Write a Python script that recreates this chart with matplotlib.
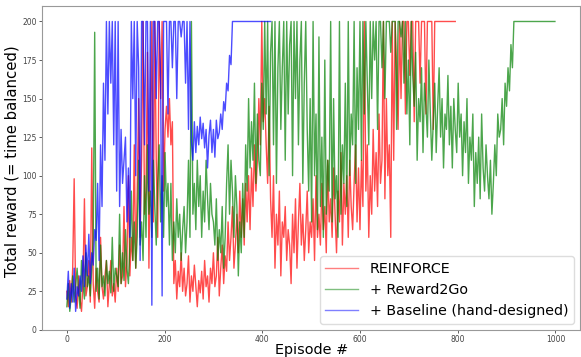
import numpy as np
import matplotlib
matplotlib.use("Agg")
import matplotlib.pyplot as plt

# one value every 3 episodes
step = 3

reinforce = [
    25, 15, 32, 18, 40, 98, 22, 14, 35, 20,
    12, 30, 85, 22, 28, 45, 18, 118, 30, 14,
    40, 25, 18, 60, 28, 20, 35, 45, 15, 30,
    45, 22, 30, 18, 40, 25, 55, 30, 35, 80,
    28, 45, 100, 35, 60, 45, 120, 40, 90, 150,
    60, 110, 200, 75, 90, 180, 40, 130, 200, 70,
    200, 110, 60, 200, 150, 200, 90, 130, 145, 125,
    150, 120, 135, 30, 45, 20, 38, 28, 50, 25,
    40, 22, 30, 48, 18, 35, 25, 42, 28, 15,
    32, 24, 38, 20, 45, 28, 35, 18, 40, 30,
    50, 28, 35, 60, 22, 40, 55, 30, 48, 38,
    70, 45, 60, 80, 40, 55, 75, 50, 90, 60,
    85, 55, 95, 70, 100, 65, 105, 80, 120, 90,
    110, 150, 120, 200, 135, 150, 120, 95, 145, 85,
    60, 100, 40, 75, 55, 90, 35, 70, 60, 80,
    45, 65, 55, 30, 75, 50, 85, 40, 70, 95,
    55, 75, 45, 65, 90, 50, 70, 60, 85, 45,
    100, 60, 75, 55, 95, 65, 80, 50, 110, 70,
    85, 60, 105, 75, 50, 90, 70, 115, 55, 95,
    75, 100, 60, 110, 80, 65, 95, 120, 70, 105,
    65, 110, 80, 200, 90, 120, 60, 100, 75, 130,
    90, 115, 80, 140, 95, 110, 200, 85, 150, 100,
    120, 60, 200, 110, 200, 170, 130, 200, 150, 200,
    200, 140, 200, 200, 165, 200, 200, 135, 200, 200,
    200, 160, 200, 200, 200, 140, 200, 200, 200, 200,
    130, 200, 200, 200, 200, 200, 200, 200, 200, 200,
    200, 200, 200, 200, 200, 200,
]

reward2go = [
    15, 30, 12, 22, 35, 18, 28, 40, 25, 14,
    45, 30, 20, 50, 28, 35, 22, 40, 60, 193,
    25, 40, 20, 55, 28, 35, 22, 45, 30, 38,
    24, 60, 25, 40, 35, 28, 75, 30, 50, 32,
    65, 40, 30, 55, 90, 45, 70, 40, 60, 110,
    55, 70, 45, 100, 60, 120, 75, 90, 60, 110,
    80, 55, 95, 120, 70, 100, 60, 115, 80, 95,
    55, 95, 45, 70, 50, 85, 60, 75, 45, 65,
    80, 50, 70, 110, 60, 200, 75, 95, 65, 110,
    80, 100, 60, 90, 70, 110, 85, 65, 95, 75,
    70, 55, 85, 45, 65, 50, 80, 40, 60, 95,
    120, 75, 110, 90, 60, 100, 80, 35, 70, 50,
    95, 60, 120, 90, 150, 105, 135, 110, 160, 95,
    140, 110, 100, 160, 130, 200, 140, 200, 100, 180,
    200, 120, 200, 95, 170, 200, 130, 170, 200, 110,
    200, 140, 185, 200, 100, 200, 150, 200, 120, 175,
    200, 95, 160, 200, 130, 90, 150, 70, 200, 100,
    140, 65, 190, 80, 125, 60, 175, 75, 110, 90,
    200, 70, 150, 85, 100, 60, 200, 75, 120, 95,
    160, 80, 200, 100, 140, 120, 200, 95, 170, 130,
    200, 110, 200, 140, 200, 160, 120, 200, 150, 200,
    175, 200, 130, 200, 200, 170, 200, 150, 200, 200,
    200, 180, 200, 200, 200, 130, 200, 200, 190, 200,
    160, 200, 140, 175, 120, 200, 165, 145, 180, 110,
    150, 135, 170, 115, 160, 145, 125, 175, 140, 110,
    135, 160, 115, 145, 170, 125, 150, 105, 140, 130,
    165, 120, 145, 105, 150, 130, 115, 160, 125, 140,
    100, 135, 115, 150, 95, 125, 110, 140, 80, 115,
    95, 125, 85, 140, 105, 90, 120, 100, 85, 110,
    75, 95, 120, 100, 140, 125, 130, 150, 120, 160,
    145, 170, 155, 185, 170, 200, 200, 200, 200, 200,
    200, 200, 200, 200, 200, 200, 200, 200, 200, 200,
    200, 200, 200, 200, 200, 200, 200, 200, 200, 200,
    200, 200, 200, 200,
]

baseline = [
    20, 38, 14, 30, 18, 40, 12, 28, 22, 35,
    25, 48, 28, 55, 35, 62, 30, 50, 42, 65,
    58, 95, 45, 120, 80, 160, 110, 200, 140, 200,
    160, 200, 120, 200, 90, 200, 80, 130, 95, 110,
    125, 70, 105, 60, 200, 150, 200, 100, 200, 170,
    45, 200, 200, 120, 200, 200, 90, 200, 16, 200,
    200, 150, 200, 200, 160, 22, 200, 200, 200, 140,
    200, 200, 170, 200, 200, 150, 200, 200, 190, 200,
    200, 160, 200, 130, 200, 122, 110, 135, 115, 132,
    120, 138, 124, 134, 118, 130, 105, 126, 136, 115,
    130, 112, 136, 124, 128, 140, 130, 148, 142, 160,
    155, 178, 172, 200, 200, 200, 200, 200, 200, 200,
    200, 200, 200, 200, 200, 200, 200, 200, 200, 200,
    200, 200, 200, 200, 200, 200, 200, 200, 200, 200,
]

labels = ["REINFORCE", "+ Reward2Go", "+ Baseline (hand-designed)"]
colors = ["red", "green", "blue"]

fig = plt.figure(figsize=(5.81, 3.57), dpi=100)
ax = fig.add_axes([0.073, 0.076, 0.925, 0.907])

for vals, lab, col in zip([reinforce, reward2go, baseline], labels, colors):
    eps = np.arange(len(vals)) * step
    ax.plot(eps, vals, color=col, alpha=0.7, lw=1.0, label=lab)

ax.set_xlim(-50, 1050)
ax.set_ylim(0, 210)
ax.set_xticks(np.arange(0, 1001, 200))
ax.set_yticks(np.arange(0, 201, 25))
ax.tick_params(labelsize=5.5, colors="#444444", length=2, width=0.6, pad=2)
for s in ax.spines.values():
    s.set_color("#999999")
ax.set_xlabel("Episode #", fontsize=10.4, labelpad=-1)
ax.set_ylabel("Total reward (= time balanced)", fontsize=10.7, labelpad=3)
ax.yaxis.set_label_coords(-0.043, 0.52)

leg = ax.legend(loc="lower right", fontsize=10.3, handlelength=2.3,
                borderaxespad=0.4, framealpha=1)
leg.get_frame().set_edgecolor("#dddddd")
for h in leg.get_lines():
    h.set_alpha(0.5)

fig.savefig("out.png", dpi=100)
